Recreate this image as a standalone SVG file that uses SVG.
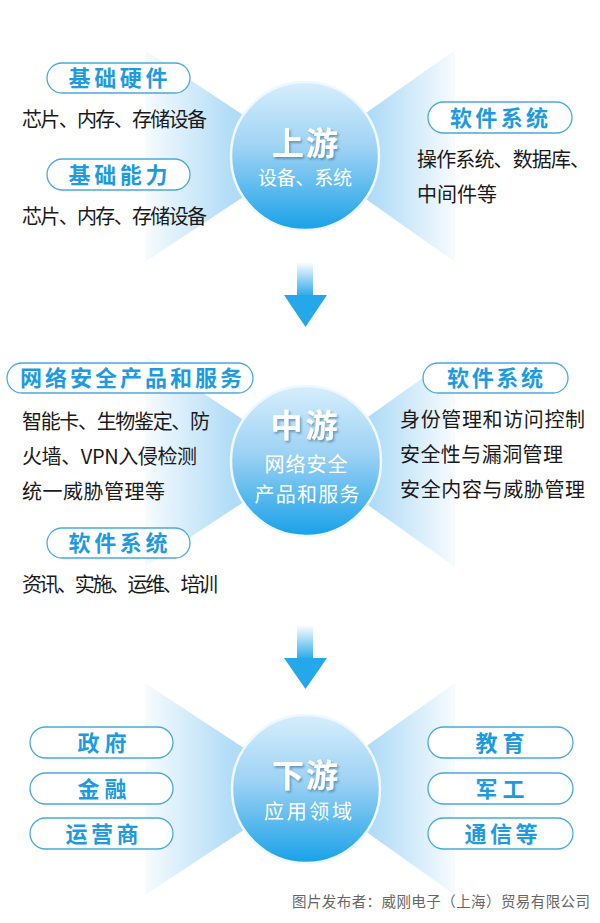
<svg xmlns="http://www.w3.org/2000/svg" width="600" height="923" viewBox="0 0 600 923">
<defs>
<style>
text{font-family:"Noto Sans CJK SC","Noto Sans",sans-serif}
.pill{fill:#fff;stroke:#4aa9dc;stroke-width:1.3}
.pt{fill:#1e9be0;font-weight:700;font-size:22px;text-anchor:middle}
.bt{fill:#1a1a1a;font-size:20px}
.ct{fill:#fff;font-weight:700;font-size:32px;text-anchor:middle;filter:url(#sh)}
.cs{fill:#fff;font-size:20px;text-anchor:middle}
.circ{fill:url(#cg);stroke:#eef8fe;stroke-width:2.5}
.head{fill:#24a8ea}
</style>
<linearGradient id="cg" x1="0" y1="0" x2="0" y2="1">
<stop offset="0" stop-color="#d6eefc"/>
<stop offset="0.45" stop-color="#9dd2f4"/>
<stop offset="1" stop-color="#18a1e8"/>
</linearGradient>
<linearGradient id="wl" gradientUnits="userSpaceOnUse" x1="305" y1="0" x2="145" y2="0">
<stop offset="0.45" stop-color="#b0dcf7"/>
<stop offset="1" stop-color="#f7fbfe"/>
</linearGradient>
<linearGradient id="wr" gradientUnits="userSpaceOnUse" x1="305" y1="0" x2="455" y2="0">
<stop offset="0.45" stop-color="#b0dcf7"/>
<stop offset="1" stop-color="#f7fbfe"/>
</linearGradient>
<linearGradient id="sg" x1="0" y1="0" x2="0" y2="1">
<stop offset="0" stop-color="#ffffff"/>
<stop offset="1" stop-color="#2aaaea"/>
</linearGradient>
<filter id="sh" x="-20%" y="-20%" width="140%" height="140%">
<feDropShadow dx="1.5" dy="2" stdDeviation="0.8" flood-color="#3d6f8f" flood-opacity="0.6"/>
</filter>
</defs>
<rect width="600" height="923" fill="#fff"/>

<g id="wedges">
<polygon points="305,156 145,50 145,262" fill="url(#wl)"/>
<polygon points="305,156 455,50 455,262" fill="url(#wr)"/>
<polygon points="306,461 145,355 145,567" fill="url(#wl)"/>
<polygon points="306,461 455,355 455,567" fill="url(#wr)"/>
<polygon points="306,789 145,683 145,895" fill="url(#wl)"/>
<polygon points="306,789 455,683 455,895" fill="url(#wr)"/>
</g>

<g id="connectors">
<rect x="297" y="262" width="16" height="34" fill="url(#sg)"/>
<polygon class="head" points="284,295 327,295 305.5,327"/>
<rect x="297" y="625" width="16" height="34" fill="url(#sg)"/>
<polygon class="head" points="284,658 327,658 305.5,689"/>
</g>

<g id="upstream">
<circle class="circ" cx="305" cy="156" r="74"/>
<text class="ct" x="305" y="155" textLength="66">上游</text>
<text class="cs" x="305" y="185" textLength="94" style="font-size:19px">设备、系统</text>
</g>

<g id="up-hardware">
<rect class="pill" x="47" y="63" width="143" height="30" rx="15"/>
<text class="pt" x="118" y="86" textLength="99">基础硬件</text>
<text class="bt" x="22" y="127" textLength="185">芯片、内存、存储设备</text>
</g>

<g id="up-capability">
<rect class="pill" x="47" y="159" width="143" height="31" rx="15.5"/>
<text class="pt" x="118" y="183" textLength="99">基础能力</text>
<text class="bt" x="22" y="224" textLength="185">芯片、内存、存储设备</text>
</g>

<g id="up-software">
<rect class="pill" x="428" y="102" width="144" height="31" rx="15.5"/>
<text class="pt" x="499" y="126" textLength="98">软件系统</text>
<text class="bt" x="417" y="167" textLength="173">操作系统、数据库、</text>
<text class="bt" x="417" y="202" textLength="80">中间件等</text>
</g>

<g id="midstream">
<circle class="circ" cx="306" cy="461" r="75"/>
<text class="ct" x="304" y="437" textLength="67">中游</text>
<text class="cs" x="306" y="472" textLength="83">网络安全</text>
<text class="cs" x="307" y="502" textLength="105">产品和服务</text>
</g>

<g id="mid-products">
<rect class="pill" x="7" y="363" width="246" height="30" rx="15"/>
<text class="pt" x="131" y="386" textLength="222">网络安全产品和服务</text>
<text class="bt" x="22" y="429" textLength="188">智能卡、生物鉴定、防</text>
<text class="bt" x="22" y="464" textLength="175">火墙、VPN入侵检测</text>
<text class="bt" x="22" y="499" textLength="143">统一威胁管理等</text>
</g>

<g id="mid-services">
<rect class="pill" x="47" y="528" width="143" height="30" rx="15"/>
<text class="pt" x="118" y="551" textLength="99">软件系统</text>
<text class="bt" x="22" y="592" textLength="196">资讯、实施、运维、培训</text>
</g>

<g id="mid-software">
<rect class="pill" x="423" y="363" width="145" height="30" rx="15"/>
<text class="pt" x="495" y="386" textLength="96">软件系统</text>
<text class="bt" x="400" y="427" textLength="185">身份管理和访问控制</text>
<text class="bt" x="400" y="462" textLength="163">安全性与漏洞管理</text>
<text class="bt" x="400" y="497" textLength="185">安全内容与威胁管理</text>
</g>

<g id="downstream">
<circle class="circ" cx="306" cy="789" r="74"/>
<text class="ct" x="305" y="787" textLength="66">下游</text>
<text class="cs" x="308" y="819" textLength="88">应用领域</text>
</g>

<g id="down-gov">
<rect class="pill" x="30" y="727" width="143" height="31" rx="15.5"/>
<text class="pt" x="102" y="751" textLength="49">政府</text>
</g>
<g id="down-finance">
<rect class="pill" x="30" y="773" width="143" height="31" rx="15.5"/>
<text class="pt" x="102" y="797" textLength="49">金融</text>
</g>
<g id="down-telecom">
<rect class="pill" x="30" y="818" width="143" height="31" rx="15.5"/>
<text class="pt" x="102" y="842" textLength="73">运营商</text>
</g>
<g id="down-edu">
<rect class="pill" x="428" y="727" width="145" height="31" rx="15.5"/>
<text class="pt" x="500" y="751" textLength="49">教育</text>
</g>
<g id="down-military">
<rect class="pill" x="428" y="773" width="145" height="31" rx="15.5"/>
<text class="pt" x="500" y="797" textLength="49">军工</text>
</g>
<g id="down-comm">
<rect class="pill" x="428" y="818" width="145" height="31" rx="15.5"/>
<text class="pt" x="501" y="842" textLength="73">通信等</text>
</g>

<text x="292" y="907" fill="#666" textLength="298" style="font-size:14.5px">图片发布者：威刚电子（上海）贸易有限公司</text>
</svg>
